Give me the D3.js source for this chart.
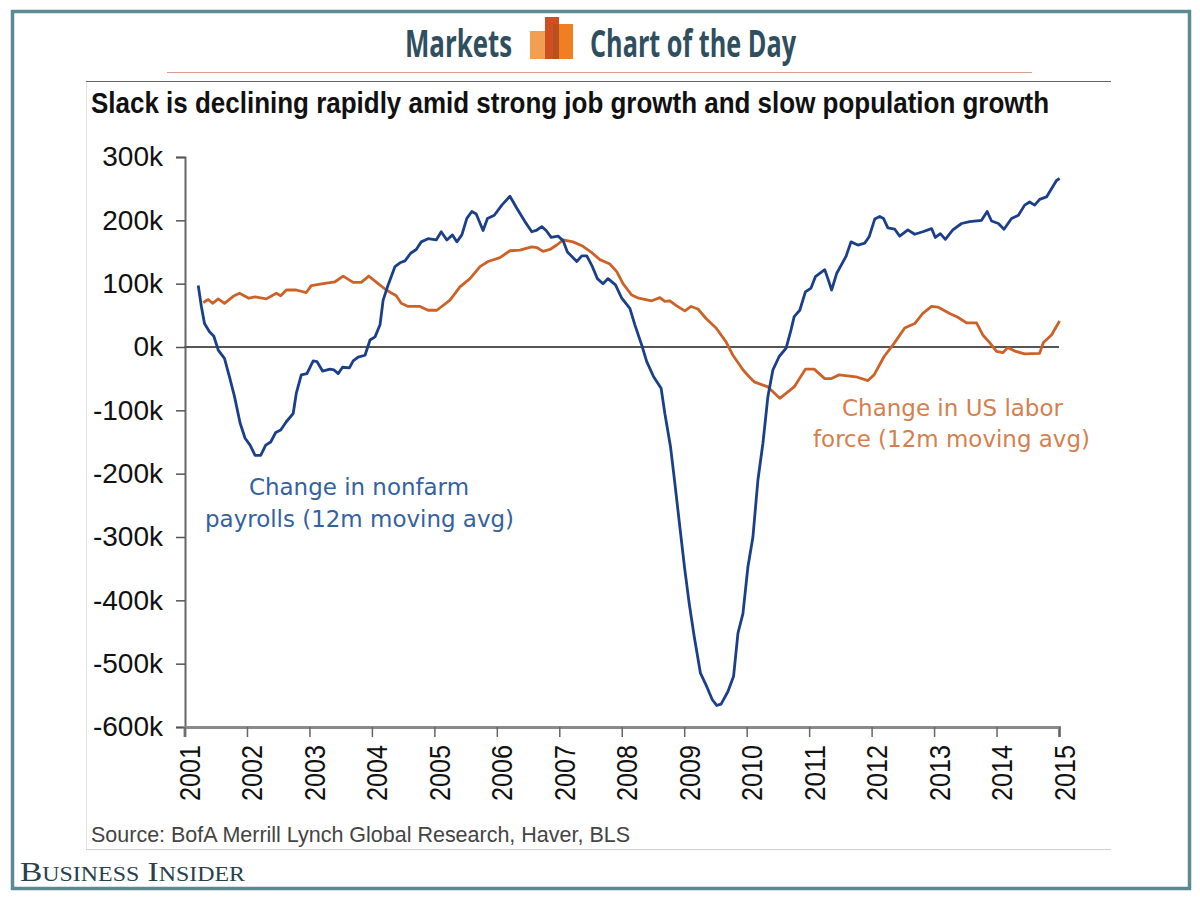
<!DOCTYPE html>
<html><head><meta charset="utf-8">
<script src="https://cdn.jsdelivr.net/npm/d3@7"></script>
<style>html,body{margin:0;padding:0;background:#fff}svg{display:block}</style>
</head><body><svg id="c" width="1200" height="900"></svg>
<script>
const payrollYears=[2001.22,2001.27,2001.32,2001.40,2001.47,2001.54,2001.64,2001.72,2001.80,2001.89,2001.97,2002.05,2002.13,2002.22,2002.30,2002.38,2002.46,2002.54,2002.63,2002.74,2002.79,2002.87,2002.96,2003.06,2003.12,2003.21,2003.33,2003.39,2003.46,2003.53,2003.64,2003.70,2003.78,2003.89,2003.97,2004.05,2004.13,2004.18,2004.26,2004.37,2004.45,2004.53,2004.62,2004.71,2004.79,2004.90,2005.03,2005.11,2005.20,2005.29,2005.36,2005.44,2005.52,2005.60,2005.67,2005.78,2005.85,2005.96,2006.08,2006.21,2006.32,2006.45,2006.56,2006.63,2006.72,2006.79,2006.87,2006.98,2007.06,2007.13,2007.28,2007.36,2007.44,2007.52,2007.61,2007.70,2007.78,2007.90,2008.00,2008.13,2008.21,2008.32,2008.40,2008.51,2008.63,2008.69,2008.78,2008.85,2008.93,2009.01,2009.08,2009.16,2009.26,2009.36,2009.45,2009.52,2009.59,2009.70,2009.79,2009.86,2009.94,2010.02,2010.10,2010.18,2010.26,2010.34,2010.42,2010.52,2010.63,2010.71,2010.76,2010.85,2010.94,2011.03,2011.10,2011.25,2011.30,2011.36,2011.44,2011.59,2011.67,2011.78,2011.89,2011.96,2012.05,2012.13,2012.19,2012.26,2012.37,2012.45,2012.58,2012.69,2012.82,2012.96,2013.02,2013.10,2013.18,2013.30,2013.44,2013.57,2013.76,2013.85,2013.92,2014.03,2014.12,2014.24,2014.35,2014.45,2014.53,2014.61,2014.69,2014.80,2014.88,2014.96,2015.01];
const payrollValues=[97,64,37,24,17,-5,-18,-47,-78,-120,-144,-155,-171,-171,-155,-150,-135,-131,-118,-105,-73,-44,-42,-22,-23,-38,-35,-36,-42,-32,-33,-22,-16,-13,11,16,35,74,98,127,133,136,148,154,166,171,169,182,169,177,166,177,203,214,210,184,203,208,224,238,219,198,182,184,190,184,173,175,168,150,135,144,144,129,108,100,108,98,77,61,35,3,-23,-47,-65,-105,-157,-215,-284,-352,-405,-457,-515,-536,-557,-566,-564,-544,-520,-452,-421,-347,-300,-210,-152,-78,-36,-15,-2,27,48,58,87,93,111,122,108,90,116,143,166,161,164,174,202,206,203,188,186,175,185,178,182,187,173,179,170,185,195,198,200,214,199,195,186,203,208,224,229,224,233,237,250,263,266];
const laborYears=[2001.30,2001.38,2001.45,2001.54,2001.64,2001.78,2001.88,2002.03,2002.13,2002.31,2002.47,2002.54,2002.63,2002.79,2002.95,2003.03,2003.22,2003.41,2003.54,2003.70,2003.83,2003.95,2004.10,2004.23,2004.39,2004.47,2004.58,2004.77,2004.90,2005.04,2005.25,2005.41,2005.57,2005.73,2005.86,2006.05,2006.21,2006.37,2006.56,2006.64,2006.74,2006.85,2006.96,2007.06,2007.22,2007.38,2007.52,2007.65,2007.81,2007.92,2008.02,2008.16,2008.27,2008.48,2008.61,2008.69,2008.77,2008.88,2009.01,2009.11,2009.22,2009.35,2009.51,2009.67,2009.78,2009.94,2010.04,2010.12,2010.34,2010.53,2010.76,2010.94,2011.08,2011.25,2011.35,2011.48,2011.75,2011.94,2012.04,2012.20,2012.34,2012.53,2012.69,2012.82,2012.96,2013.06,2013.25,2013.38,2013.52,2013.68,2013.78,2013.89,2014.00,2014.10,2014.18,2014.31,2014.45,2014.69,2014.75,2014.88,2015.01];
const laborValues=[70,75,69,76,69,80,85,77,79,76,85,81,90,90,86,97,100,103,112,102,102,112,100,90,81,69,64,64,58,58,74,95,108,127,135,141,152,153,158,157,151,154,161,169,166,159,149,138,131,119,100,82,77,73,78,72,73,65,57,64,60,45,30,8,-13,-36,-47,-55,-63,-81,-63,-35,-35,-50,-50,-44,-47,-53,-44,-15,3,30,37,53,64,63,53,47,38,38,19,7,-7,-9,-1,-7,-11,-10,7,19,41];
const yTicks=[300,200,100,0,-100,-200,-300,-400,-500,-600];
const xTicks=[2001,2002,2003,2004,2005,2006,2007,2008,2009,2010,2011,2012,2013,2014,2015];
const titleText="Slack is declining rapidly amid strong job growth and slow population growth";
const sourceText="Source: BofA Merrill Lynch Global Research, Haver, BLS";
const payrollLabel=["Change in nonfarm","payrolls  (12m moving avg)"];
const laborLabel=["Change in US labor","force (12m moving avg)"];

const svg=d3.select("#c");
const x=d3.scaleLinear().domain([2001,2015]).range([184.5,1059]);
const y=d3.scaleLinear().domain([-600,300]).range([727,157]);
const SANS="'Liberation Sans',Arial,sans-serif";
const HEAD="#2f4f5f";

// frame
svg.append("rect").attr("x",12.5).attr("y",11.5).attr("width",1177).attr("height",877)
  .attr("fill","none").attr("stroke","#5c8a92").attr("stroke-width",3.5);

// header
function fitted(t,xx,yy,len,size,fam,weight,fill){
  return svg.append("text").text(t).attr("x",xx).attr("y",yy).attr("textLength",len)
    .attr("lengthAdjust","spacingAndGlyphs").attr("font-family",fam).attr("font-size",size)
    .attr("font-weight",weight).attr("fill",fill);
}
fitted("Markets",405,57,107,37,"'Open Sans',sans-serif",700,HEAD);
fitted("Chart of the Day",590,57,206,37,"'Open Sans',sans-serif",700,HEAD);
const logo=svg.append("g");
logo.append("rect").attr("x",530).attr("y",31).attr("width",16).attr("height",28).attr("fill","#f0a050");
logo.append("rect").attr("x",559).attr("y",24).attr("width",14).attr("height",35).attr("fill","#f07f23");
logo.append("rect").attr("x",545).attr("y",17).attr("width",14).attr("height",42).attr("fill","#cd4f22");
logo.append("rect").attr("x",553).attr("y",24).attr("width",6).attr("height",35).attr("fill","#b8501f");
svg.append("line").attr("x1",167).attr("x2",1032).attr("y1",72.5).attr("y2",72.5).attr("stroke","#dd9c8e").attr("stroke-width",1);

// inner box
svg.append("line").attr("x1",86).attr("x2",1111).attr("y1",81.5).attr("y2",81.5).attr("stroke","#666").attr("stroke-width",1);
svg.append("line").attr("x1",86.5).attr("x2",86.5).attr("y1",82).attr("y2",849).attr("stroke","#e4e4e4");
svg.append("line").attr("x1",86).attr("x2",1111).attr("y1",849.5).attr("y2",849.5).attr("stroke","#cfcfcf");
fitted(titleText,91,113,958,29,SANS,700,"#111");

// axes
const gy=svg.append("g").attr("transform","translate(185,0)")
  .call(d3.axisLeft(y).tickValues(yTicks).tickFormat(d=>d+"k").tickSize(9).tickPadding(13));
gy.selectAll("text").attr("font-family",SANS).attr("font-size",28).attr("fill","#111");
gy.selectAll("line").attr("stroke","#555").attr("stroke-width",1.5);
gy.select(".domain").attr("stroke","#666").attr("stroke-width",2);

const gx=svg.append("g").attr("transform","translate(0,727)")
  .call(d3.axisBottom(x).tickValues(xTicks).tickFormat(d3.format("d")).tickSizeOuter(0).tickSize(10));
gx.selectAll("text").attr("font-family",SANS).attr("font-size",29).attr("fill","#111")
  .attr("text-anchor","end").attr("dy",null).attr("x",0).attr("y",0)
  .attr("transform","translate(15,18) rotate(-90)")
  .attr("textLength",56).attr("lengthAdjust","spacingAndGlyphs");
gx.selectAll("line").attr("stroke","#666").attr("stroke-width",1.5);
gx.select(".domain").attr("stroke","#8a8a8a").attr("stroke-width",3);

// zero line
svg.append("line").attr("x1",x(2001)).attr("x2",x(2015)).attr("y1",y(0)).attr("y2",y(0)).attr("stroke","#555").attr("stroke-width",2);

// series
const line=d3.line().x(d=>x(d[0])).y(d=>y(d[1]));
svg.append("path").attr("d",line(d3.zip(laborYears,laborValues))).attr("fill","none").attr("stroke","#cc6228").attr("stroke-width",2.8).attr("stroke-linejoin","round");
svg.append("path").attr("d",line(d3.zip(payrollYears,payrollValues))).attr("fill","none").attr("stroke","#1b3f88").attr("stroke-width",2.8).attr("stroke-linejoin","round");

// annotations
const AN="'DejaVu Sans',Verdana,sans-serif";
fitted(payrollLabel[0],249,495,220,23,AN,400,"#34629f");
fitted(payrollLabel[1],205,527,309,23,AN,400,"#34629f");
fitted(laborLabel[0],842,416,221,23,AN,400,"#d57f4e");
fitted(laborLabel[1],813,447,277,23,AN,400,"#d57f4e");

// footer
fitted(sourceText,91,842,539,22,SANS,400,"#444");
svg.append("text").attr("x",20).attr("y",881).attr("textLength",225).attr("lengthAdjust","spacingAndGlyphs")
  .attr("font-family","'Liberation Serif',serif").attr("font-size",28).attr("fill","#29404d")
  .style("font-variant","small-caps").text("Business Insider");
</script></body></html>
